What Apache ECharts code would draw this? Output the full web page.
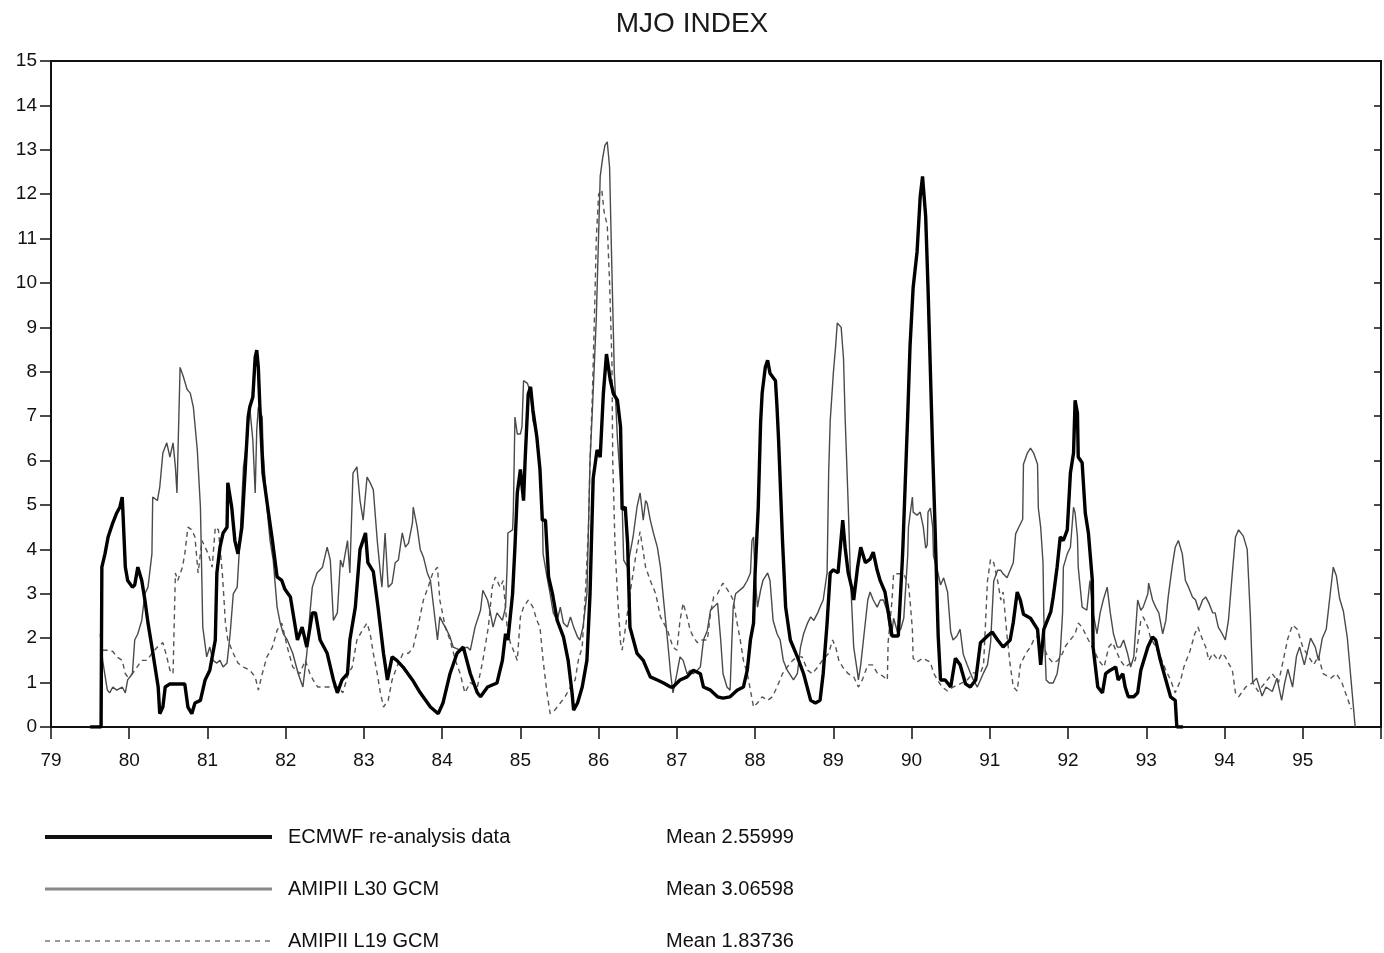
<!DOCTYPE html>
<html>
<head>
<meta charset="utf-8">
<title>MJO INDEX</title>
<script src="https://cdn.jsdelivr.net/npm/echarts@6/dist/echarts.min.js"></script>
<style>
  html, body { margin: 0; padding: 0; background: #fff; }
  #chart { width: 1384px; height: 953px; }
</style>
</head>
<body>
<div id="chart"></div>
<script>
// MJO index time series, [year (19xx), index value]
const ecmwf = [
  [79.50,0],[79.64,0],[79.65,3.6],[79.69,3.9],[79.73,4.28],[79.79,4.6],[79.84,4.82],[79.88,4.95],[79.91,5.18],[79.92,4.82],
  [79.95,3.6],[79.98,3.3],[80.04,3.15],[80.07,3.2],[80.11,3.6],[80.16,3.3],[80.20,2.86],[80.24,2.34],[80.29,1.8],[80.33,1.35],
  [80.37,0.9],[80.39,0.3],[80.43,0.45],[80.46,0.9],[80.52,0.97],[80.71,0.97],[80.75,0.45],[80.80,0.3],[80.84,0.54],[80.91,0.6],
  [80.97,1.06],[81.03,1.28],[81.10,1.96],[81.12,3.47],[81.16,4.05],[81.20,4.37],[81.25,4.5],[81.26,5.5],[81.31,4.95],[81.35,4.2],
  [81.39,3.9],[81.44,4.5],[81.48,5.72],[81.52,6.98],[81.54,7.2],[81.58,7.43],[81.61,8.33],[81.63,8.49],[81.65,8.1],[81.67,7.2],
  [81.71,5.72],[81.77,4.95],[81.83,4.2],[81.89,3.38],[81.95,3.3],[81.99,3.1],[82.06,2.93],[82.15,1.96],[82.21,2.25],[82.27,1.8],
  [82.34,2.57],[82.38,2.57],[82.44,1.96],[82.53,1.66],[82.61,1.06],[82.66,0.77],[82.72,1.06],[82.79,1.2],[82.82,1.96],[82.89,2.7],
  [82.95,4.0],[83.02,4.37],[83.05,3.7],[83.12,3.5],[83.18,2.7],[83.25,1.66],[83.30,1.06],[83.36,1.58],[83.42,1.5],[83.50,1.35],
  [83.62,1.06],[83.72,0.77],[83.85,0.45],[83.95,0.3],[84.01,0.54],[84.10,1.2],[84.19,1.66],[84.27,1.8],[84.36,1.2],[84.45,0.77],
  [84.49,0.68],[84.58,0.9],[84.70,0.99],[84.77,1.5],[84.81,2.1],[84.84,1.96],[84.90,3.0],[84.93,4.05],[84.96,5.27],[85.00,5.8],
  [85.04,5.1],[85.06,6.0],[85.10,7.5],[85.13,7.66],[85.16,7.14],[85.21,6.53],[85.25,5.8],[85.28,4.66],[85.32,4.66],[85.36,3.38],
  [85.41,3.0],[85.47,2.4],[85.55,2.03],[85.61,1.5],[85.66,0.77],[85.68,0.38],[85.73,0.54],[85.79,0.9],[85.85,1.5],[85.89,3.0],
  [85.93,5.6],[85.98,6.24],[86.02,6.08],[86.06,7.5],[86.10,8.4],[86.15,7.8],[86.19,7.5],[86.24,7.36],[86.28,6.76],[86.30,4.9],
  [86.34,4.95],[86.37,4.14],[86.40,2.25],[86.49,1.66],[86.57,1.5],[86.66,1.13],[86.75,1.06],[86.83,0.99],[86.92,0.9],[86.95,0.9],
  [87.04,1.06],[87.13,1.13],[87.21,1.28],[87.30,1.2],[87.34,0.9],[87.43,0.83],[87.52,0.68],[87.59,0.65],[87.68,0.68],[87.77,0.83],
  [87.85,0.9],[87.90,1.28],[87.94,1.96],[87.98,2.34],[88.00,3.47],[88.04,4.95],[88.07,6.85],[88.09,7.52],[88.13,8.1],[88.16,8.26],
  [88.19,7.97],[88.26,7.8],[88.28,7.2],[88.30,6.46],[88.35,4.2],[88.39,2.7],[88.45,1.96],[88.54,1.58],[88.62,1.2],[88.71,0.6],
  [88.77,0.54],[88.83,0.6],[88.87,1.2],[88.92,2.34],[88.96,3.47],[89.00,3.54],[89.06,3.47],[89.12,4.66],[89.15,4.05],[89.19,3.47],
  [89.24,3.1],[89.26,2.86],[89.31,3.6],[89.35,4.05],[89.41,3.7],[89.47,3.78],[89.51,3.94],[89.56,3.53],[89.60,3.29],[89.66,3.04],
  [89.70,2.61],[89.75,2.05],[89.83,2.05],[89.88,3.7],[89.89,4.1],[89.95,7.0],[89.98,8.57],[90.02,9.9],[90.07,10.7],[90.11,11.94],
  [90.14,12.4],[90.18,11.5],[90.21,9.9],[90.27,6.17],[90.30,4.5],[90.34,2.05],[90.37,1.06],[90.43,1.06],[90.50,0.9],[90.56,1.55],
  [90.62,1.4],[90.69,0.97],[90.75,0.9],[90.82,1.06],[90.88,1.9],[90.97,2.05],[91.03,2.14],[91.10,1.96],[91.17,1.8],[91.26,1.96],
  [91.30,2.36],[91.35,3.04],[91.39,2.86],[91.43,2.54],[91.52,2.45],[91.61,2.2],[91.65,1.4],[91.69,2.2],[91.78,2.6],[91.81,2.93],
  [91.86,3.6],[91.90,4.28],[91.94,4.2],[91.99,4.44],[92.03,5.72],[92.07,6.17],[92.09,7.36],[92.12,7.07],[92.13,6.08],[92.18,5.95],
  [92.22,4.82],[92.26,4.37],[92.31,3.31],[92.32,1.8],[92.38,0.9],[92.44,0.77],[92.48,1.2],[92.54,1.28],[92.61,1.35],[92.64,1.06],
  [92.70,1.2],[92.73,0.9],[92.77,0.68],[92.84,0.68],[92.89,0.77],[92.93,1.28],[93.02,1.8],[93.08,2.03],[93.12,1.96],[93.18,1.5],
  [93.25,1.06],[93.31,0.68],[93.37,0.6],[93.39,0],[93.47,0]
];

const amip30 = [
  [79.63,2.1],[79.66,1.5],[79.72,0.83],[79.75,0.77],[79.79,0.9],[79.84,0.83],[79.91,0.9],[79.95,0.77],[79.98,1.06],[80.04,1.2],
  [80.07,1.96],[80.11,2.1],[80.16,2.4],[80.20,3.0],[80.24,3.15],[80.29,3.9],[80.30,5.18],[80.36,5.1],[80.39,5.4],[80.43,6.17],
  [80.48,6.4],[80.52,6.08],[80.56,6.4],[80.59,5.86],[80.61,5.27],[80.65,8.1],[80.69,7.9],[80.74,7.6],[80.78,7.52],[80.82,7.2],
  [80.87,6.24],[80.91,4.95],[80.94,2.25],[80.99,1.58],[81.03,1.8],[81.07,1.5],[81.12,1.44],[81.16,1.5],[81.20,1.35],[81.25,1.44],
  [81.29,2.1],[81.33,3.0],[81.38,3.15],[81.42,4.37],[81.46,5.86],[81.51,6.53],[81.54,7.2],[81.58,6.46],[81.61,5.27],[81.63,6.7],
  [81.65,7.2],[81.70,6.98],[81.71,6.24],[81.76,4.95],[81.80,4.2],[81.84,3.76],[81.89,2.7],[81.93,2.34],[81.97,2.1],[82.02,1.96],
  [82.09,1.66],[82.16,1.2],[82.22,0.9],[82.27,1.66],[82.31,2.57],[82.34,3.15],[82.40,3.47],[82.47,3.6],[82.53,4.05],[82.57,3.76],
  [82.61,2.4],[82.66,2.57],[82.70,3.76],[82.73,3.6],[82.79,4.2],[82.82,3.47],[82.86,5.72],[82.91,5.86],[82.95,5.1],[82.99,4.66],
  [83.04,5.63],[83.08,5.5],[83.12,5.34],[83.17,4.2],[83.21,3.47],[83.23,3.15],[83.27,4.37],[83.31,3.15],[83.36,3.24],[83.40,3.7],
  [83.44,3.76],[83.49,4.37],[83.53,4.05],[83.57,4.14],[83.62,4.6],[83.63,4.95],[83.68,4.5],[83.72,4.0],[83.76,3.83],[83.81,3.47],
  [83.85,3.3],[83.88,2.86],[83.94,1.96],[83.97,2.48],[84.01,2.34],[84.06,2.18],[84.10,2.03],[84.14,1.8],[84.23,1.73],[84.32,1.8],
  [84.36,1.73],[84.42,2.25],[84.49,2.63],[84.52,3.08],[84.58,2.86],[84.61,2.63],[84.65,2.25],[84.70,2.57],[84.77,2.4],[84.81,2.7],
  [84.83,3.6],[84.84,4.37],[84.90,4.44],[84.91,4.88],[84.93,6.98],[84.96,6.6],[85.00,6.6],[85.02,6.76],[85.04,7.8],[85.09,7.74],
  [85.13,7.52],[85.16,6.9],[85.21,6.6],[85.25,5.8],[85.28,4.88],[85.29,3.9],[85.34,3.38],[85.38,3.0],[85.42,2.57],[85.47,2.4],
  [85.51,2.7],[85.55,2.34],[85.60,2.25],[85.64,2.48],[85.68,2.25],[85.73,2.03],[85.76,1.96],[85.80,2.25],[85.85,3.0],[85.87,4.5],
  [85.89,6.0],[85.92,7.14],[85.97,9.2],[86.02,12.4],[86.05,12.8],[86.08,13.1],[86.11,13.18],[86.14,12.6],[86.16,11.0],[86.20,8.0],
  [86.24,6.5],[86.28,5.5],[86.30,5.04],[86.32,3.76],[86.37,3.6],[86.40,3.9],[86.44,4.28],[86.49,4.95],[86.53,5.27],[86.56,4.82],
  [86.57,4.66],[86.60,5.1],[86.62,5.04],[86.66,4.66],[86.70,4.37],[86.75,4.05],[86.79,3.6],[86.83,2.86],[86.88,1.96],[86.92,1.2],
  [86.95,0.77],[87.00,1.2],[87.04,1.58],[87.08,1.5],[87.13,1.2],[87.17,1.28],[87.21,1.2],[87.26,1.28],[87.30,1.35],[87.34,1.96],
  [87.39,2.18],[87.43,2.63],[87.47,2.7],[87.52,2.79],[87.56,1.96],[87.59,1.2],[87.64,0.9],[87.68,0.83],[87.70,1.8],[87.72,2.7],
  [87.75,3.0],[87.85,3.15],[87.90,3.3],[87.94,3.47],[87.96,4.2],[87.98,4.28],[88.00,3.4],[88.03,2.7],[88.07,3.08],[88.10,3.3],
  [88.16,3.47],[88.19,3.3],[88.23,2.4],[88.28,2.1],[88.32,1.96],[88.36,1.5],[88.41,1.28],[88.49,1.06],[88.54,1.2],[88.58,1.8],
  [88.62,2.1],[88.67,2.34],[88.71,2.48],[88.75,2.4],[88.80,2.57],[88.83,2.7],[88.87,2.86],[88.92,3.47],[88.94,5.72],[88.96,6.9],
  [89.00,7.97],[89.03,8.6],[89.05,9.1],[89.10,9.0],[89.13,8.3],[89.15,7.0],[89.19,5.0],[89.22,3.3],[89.26,1.8],[89.31,1.2],
  [89.32,1.06],[89.35,1.4],[89.39,2.05],[89.44,2.86],[89.47,3.04],[89.51,2.86],[89.56,2.7],[89.60,2.86],[89.64,2.86],[89.69,2.6],
  [89.73,2.05],[89.75,2.14],[89.77,2.45],[89.82,2.14],[89.86,2.2],[89.90,2.45],[89.95,3.85],[89.96,4.5],[90.01,5.18],[90.02,4.84],
  [90.07,4.77],[90.11,4.84],[90.15,4.5],[90.18,4.03],[90.20,4.1],[90.21,4.84],[90.24,4.93],[90.27,4.5],[90.28,3.85],[90.33,3.53],
  [90.37,3.2],[90.41,3.36],[90.46,3.04],[90.50,2.14],[90.53,1.96],[90.58,2.05],[90.62,2.2],[90.66,1.64],[90.71,1.4],[90.75,1.22],
  [90.79,1.06],[90.84,0.9],[90.88,1.06],[90.92,1.22],[90.97,1.4],[91.01,1.9],[91.05,3.29],[91.10,3.53],[91.14,3.53],[91.17,3.45],
  [91.22,3.36],[91.26,3.53],[91.30,3.7],[91.33,4.35],[91.37,4.5],[91.42,4.68],[91.43,5.92],[91.48,6.17],[91.52,6.28],[91.56,6.17],
  [91.61,5.92],[91.62,4.93],[91.65,4.5],[91.68,3.7],[91.69,2.5],[91.72,1.06],[91.76,0.99],[91.81,0.99],[91.86,1.2],[91.90,1.66],
  [91.93,2.57],[91.94,3.6],[91.99,3.9],[92.03,4.05],[92.07,4.95],[92.09,4.82],[92.12,4.28],[92.13,3.6],[92.18,2.7],[92.24,2.63],
  [92.28,3.3],[92.32,2.57],[92.37,2.1],[92.41,2.57],[92.45,2.86],[92.50,3.15],[92.54,2.57],[92.58,2.1],[92.63,1.8],[92.67,1.8],
  [92.71,1.96],[92.76,1.66],[92.80,1.35],[92.84,1.58],[92.89,2.86],[92.93,2.63],[92.96,2.7],[93.02,3.0],[93.03,3.24],[93.08,2.86],
  [93.12,2.7],[93.16,2.57],[93.21,2.1],[93.25,2.4],[93.28,2.93],[93.33,3.6],[93.37,4.05],[93.41,4.2],[93.46,3.9],[93.50,3.3],
  [93.54,3.15],[93.59,2.93],[93.63,2.86],[93.67,2.63],[93.72,2.86],[93.76,2.93],[93.80,2.79],[93.85,2.57],[93.88,2.57],[93.92,2.25],
  [93.97,2.1],[94.01,1.96],[94.05,2.4],[94.10,3.47],[94.14,4.28],[94.18,4.44],[94.24,4.3],[94.29,4.0],[94.33,2.5],[94.36,1.0],
  [94.41,1.1],[94.48,0.7],[94.53,0.9],[94.61,0.8],[94.67,1.1],[94.73,0.6],[94.77,1.0],[94.81,1.3],[94.87,0.9],[94.92,1.6],
  [94.96,1.8],[95.02,1.4],[95.10,2.0],[95.16,1.8],[95.20,1.5],[95.25,2.0],[95.30,2.2],[95.37,3.3],[95.39,3.6],[95.43,3.4],
  [95.47,2.9],[95.52,2.6],[95.57,2.0],[95.62,1.0],[95.67,0]
];

const amip19 = [
  [79.66,1.73],[79.73,1.73],[79.79,1.7],[79.84,1.58],[79.91,1.5],[79.95,1.2],[79.98,1.13],[80.04,1.2],[80.10,1.35],[80.16,1.5],
  [80.23,1.5],[80.29,1.66],[80.36,1.8],[80.43,1.9],[80.48,1.58],[80.52,1.28],[80.56,1.2],[80.59,3.47],[80.62,3.3],[80.68,3.6],
  [80.71,3.9],[80.75,4.5],[80.80,4.44],[80.84,4.28],[80.88,3.47],[80.93,4.2],[80.97,4.05],[81.01,3.9],[81.06,3.6],[81.10,4.5],
  [81.14,4.44],[81.19,3.47],[81.23,2.34],[81.26,1.96],[81.33,1.66],[81.39,1.44],[81.46,1.35],[81.54,1.28],[81.61,1.13],[81.65,0.83],
  [81.70,1.2],[81.76,1.58],[81.83,1.8],[81.89,2.18],[81.95,2.34],[82.02,1.8],[82.09,1.35],[82.18,1.2],[82.25,1.5],[82.31,1.2],
  [82.35,1.06],[82.41,0.9],[82.57,0.9],[82.67,0.9],[82.73,0.77],[82.80,1.2],[82.85,1.35],[82.91,1.96],[82.98,2.18],[83.04,2.34],
  [83.08,2.1],[83.12,1.66],[83.17,1.2],[83.21,0.77],[83.25,0.45],[83.31,0.6],[83.36,1.06],[83.42,1.35],[83.50,1.66],[83.57,1.66],
  [83.63,1.8],[83.69,2.25],[83.76,2.86],[83.82,3.15],[83.88,3.47],[83.94,3.6],[83.97,2.86],[84.04,2.25],[84.10,1.96],[84.17,1.5],
  [84.23,1.2],[84.29,0.77],[84.36,1.0],[84.45,0.9],[84.52,1.5],[84.59,2.25],[84.64,3.15],[84.68,3.38],[84.74,3.15],[84.78,3.3],
  [84.83,2.25],[84.87,1.9],[84.91,1.73],[84.96,1.5],[85.00,2.48],[85.04,2.7],[85.10,2.86],[85.16,2.7],[85.21,2.4],[85.25,2.25],
  [85.29,1.5],[85.34,0.77],[85.38,0.3],[85.44,0.38],[85.51,0.54],[85.57,0.68],[85.64,0.9],[85.70,1.06],[85.74,1.5],[85.79,1.8],
  [85.83,3.0],[85.87,4.5],[85.89,6.0],[85.92,7.5],[85.95,9.5],[85.97,11.0],[86.00,12.0],[86.04,12.1],[86.07,11.6],[86.11,11.3],
  [86.14,10.0],[86.17,8.2],[86.18,6.0],[86.21,4.05],[86.24,3.0],[86.28,1.9],[86.30,1.73],[86.34,2.2],[86.40,3.0],[86.47,3.8],
  [86.53,4.4],[86.60,3.6],[86.66,3.3],[86.73,3.0],[86.79,2.48],[86.88,2.18],[86.92,1.96],[86.95,1.8],[87.00,1.73],[87.04,2.4],
  [87.08,2.79],[87.13,2.48],[87.17,2.18],[87.21,2.03],[87.26,1.9],[87.30,1.96],[87.39,1.96],[87.43,2.57],[87.47,2.93],[87.52,3.0],
  [87.56,3.15],[87.59,3.24],[87.68,3.0],[87.72,2.86],[87.77,2.34],[87.81,1.96],[87.85,1.5],[87.90,1.2],[87.94,0.83],[87.98,0.45],
  [88.03,0.54],[88.09,0.68],[88.16,0.6],[88.22,0.68],[88.28,0.9],[88.35,1.2],[88.41,1.35],[88.48,1.5],[88.54,1.58],[88.60,1.58],
  [88.67,1.28],[88.73,1.2],[88.80,1.35],[88.86,1.5],[88.90,1.58],[88.94,1.66],[88.99,1.96],[89.03,1.8],[89.07,1.5],[89.12,1.35],
  [89.15,1.28],[89.19,1.2],[89.26,1.13],[89.32,0.9],[89.37,1.06],[89.44,1.4],[89.50,1.4],[89.56,1.22],[89.63,1.15],[89.69,1.06],
  [89.70,1.9],[89.75,2.86],[89.77,3.45],[89.90,3.45],[89.96,3.2],[89.98,2.86],[90.01,2.2],[90.02,1.55],[90.07,1.46],[90.14,1.55],
  [90.24,1.46],[90.28,1.22],[90.33,1.06],[90.39,0.9],[90.46,0.81],[90.53,0.9],[90.62,0.97],[90.71,1.06],[90.79,1.22],[90.88,1.22],
  [90.92,1.4],[90.97,3.29],[91.01,3.78],[91.05,3.7],[91.10,3.29],[91.14,2.86],[91.17,3.04],[91.22,2.05],[91.26,1.4],[91.30,0.9],
  [91.35,0.81],[91.39,1.4],[91.43,1.55],[91.48,1.71],[91.52,1.8],[91.56,1.96],[91.61,2.05],[91.69,1.8],[91.74,1.58],[91.81,1.44],
  [91.87,1.5],[91.93,1.66],[91.96,1.8],[92.00,1.9],[92.06,2.03],[92.09,2.1],[92.13,2.34],[92.18,2.25],[92.22,2.1],[92.26,1.96],
  [92.31,1.8],[92.35,1.66],[92.39,1.5],[92.46,1.35],[92.52,1.8],[92.57,1.9],[92.61,1.73],[92.67,1.5],[92.73,1.35],[92.80,1.44],
  [92.86,1.5],[92.93,2.4],[92.96,2.48],[93.02,2.25],[93.05,2.03],[93.12,1.8],[93.18,1.58],[93.25,1.28],[93.31,1.06],[93.37,0.77],
  [93.44,1.06],[93.48,1.35],[93.53,1.58],[93.55,1.66],[93.62,2.1],[93.66,2.25],[93.72,1.96],[93.76,1.8],[93.80,1.5],[93.85,1.66],
  [93.92,1.5],[93.97,1.66],[94.01,1.58],[94.05,1.44],[94.10,1.28],[94.14,0.77],[94.18,0.68],[94.27,0.9],[94.36,1.0],[94.43,0.8],
  [94.52,1.0],[94.61,1.2],[94.69,1.0],[94.75,1.5],[94.81,2.0],[94.87,2.3],[94.93,2.2],[95.00,1.8],[95.07,1.6],[95.14,1.4],
  [95.20,1.6],[95.26,1.2],[95.36,1.1],[95.43,1.2],[95.50,1.0],[95.56,0.7],[95.62,0.4]
];

const seriesNames = ['ECMWF re-analysis data', 'AMIPII L30 GCM', 'AMIPII L19 GCM'];
const seriesMeans = ['2.55999', '3.06598', '1.83736'];

const FONT = 'Liberation Sans, Arial, Helvetica, sans-serif';

const chart = echarts.init(document.getElementById('chart'), null, { renderer: 'canvas' });

chart.setOption({
  animation: false,
  backgroundColor: '#ffffff',
  title: {
    text: 'MJO INDEX',
    left: 'center',
    top: 5,
    textStyle: { fontFamily: FONT, fontSize: 28, fontWeight: 'normal', color: '#1a1a1a' }
  },
  grid: {
    left: 51, right: 2, top: 61, bottom: 226,
    show: true, borderColor: '#111', borderWidth: 2, backgroundColor: 'transparent'
  },
  xAxis: {
    type: 'value',
    min: 79, max: 96, interval: 1,
    axisLine: { lineStyle: { color: '#111', width: 2 } },
    axisTick: { inside: false, length: 12, lineStyle: { color: '#111', width: 1.5 } },
    axisLabel: {
      margin: 24, fontFamily: FONT, fontSize: 19, color: '#111',
      formatter: v => (v >= 96 ? '' : String(v))
    },
    splitLine: { show: false }
  },
  yAxis: [
    {
      type: 'value',
      min: 0, max: 15, interval: 1,
      axisLine: { show: true, lineStyle: { color: '#111', width: 2 } },
      axisTick: { show: true, inside: false, length: 11, lineStyle: { color: '#111', width: 1.5 } },
      axisLabel: { margin: 14, fontFamily: FONT, fontSize: 19, color: '#111' },
      splitLine: { show: false }
    },
    {
      type: 'value',
      position: 'right',
      min: 0, max: 15, interval: 1,
      axisLine: { show: true, lineStyle: { color: '#111', width: 2 } },
      axisTick: { show: true, inside: true, length: 7, lineStyle: { color: '#111', width: 1.5 } },
      axisLabel: { show: false },
      splitLine: { show: false }
    }
  ],
  legend: {
    orient: 'vertical',
    left: 43,
    top: 827,
    padding: 0,
    itemWidth: 227,
    itemHeight: 20,
    itemGap: 32,
    selectedMode: false,
    itemStyle: { opacity: 0 },
    data: [
      { name: seriesNames[0], lineStyle: { width: 4, color: '#111' }, itemStyle: { opacity: 0 } },
      { name: seriesNames[1], lineStyle: { width: 3, color: '#888' }, itemStyle: { opacity: 0 } },
      { name: seriesNames[2], lineStyle: { width: 2, color: '#999', type: [5, 5] }, itemStyle: { opacity: 0 } }
    ],
    formatter: name => {
      const i = seriesNames.indexOf(name);
      return '{n|' + name + '}{m|Mean ' + seriesMeans[i] + '}';
    },
    textStyle: {
      fontFamily: FONT, fontSize: 20, color: '#111', lineHeight: 20,
      rich: {
        n: { fontFamily: FONT, fontSize: 20, color: '#111', lineHeight: 20, width: 378, padding: [0, 0, 0, 11] },
        m: { fontFamily: FONT, fontSize: 20, color: '#111', lineHeight: 20 }
      }
    }
  },
  series: [
    {
      name: seriesNames[2],
      type: 'line',
      data: amip19,
      symbol: 'none',
      itemStyle: { color: '#555' },
      lineStyle: { color: '#555', width: 1.4, type: [5, 4] },
      z: 2
    },
    {
      name: seriesNames[1],
      type: 'line',
      data: amip30,
      symbol: 'none',
      itemStyle: { color: '#4a4a4a' },
      lineStyle: { color: '#4a4a4a', width: 1.4 },
      z: 3
    },
    {
      name: seriesNames[0],
      type: 'line',
      data: ecmwf,
      symbol: 'none',
      itemStyle: { color: '#000' },
      lineStyle: { color: '#000', width: 3.4 },
      z: 4
    }
  ]
});
</script>
</body>
</html>
